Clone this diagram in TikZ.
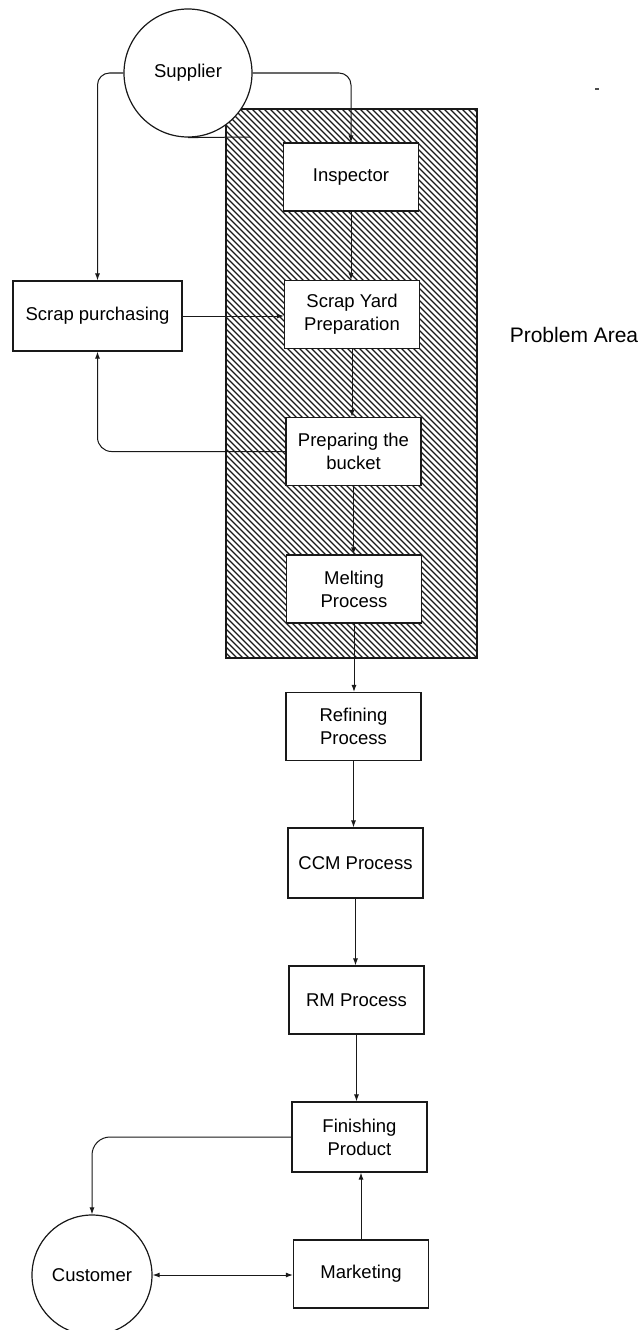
\documentclass[tikz,border=0pt]{standalone}
\usepackage{fontspec}
\setmainfont{Liberation Sans}
\usetikzlibrary{arrows.meta}
\begin{document}
\begin{tikzpicture}[x=1pt,y=-1pt,
  every node/.style={font=\fontsize{18.5}{23}\selectfont, text=black},
  pbox/.style={draw=black!90, line width=1.2pt, fill=white, rectangle, align=center, inner sep=0pt, minimum width=135pt, minimum height=68pt},
  pcirc/.style={draw=black!90, line width=1.2pt, fill=white, circle, inner sep=0pt},
  conn/.style={draw=black!90, line width=1pt},
  arr/.style={conn, -{Latex[length=7pt,width=5pt]}},
  hatch/.style={draw=black!90, line width=1.2pt}
]
\useasboundingbox (0,0) rectangle (642,1330);
\fill[white] (0,0) rectangle (642,1330);

% hatched problem area
\begin{scope}
  \clip (226,109) rectangle (477,658);
  \foreach \i in {-330,-324,...,480} {
    \draw[black!90, line width=1.15pt] (\i,109) -- (\i+549,658);
  }
\end{scope}
\draw[hatch] (226,109) rectangle (477,658);

% nodes
\node[pcirc, minimum size=128pt] (sup) at (188,73) {Supplier};
\node[pbox] (insp) at (351,177) {Inspector};
\node[pbox] (syp) at (352,314.5) {Scrap Yard\\Preparation};
\node[pbox, minimum width=169pt, minimum height=70pt] (spur) at (97.5,316) {Scrap purchasing};
\node[pbox] (buck) at (353.5,451.5) {Preparing the\\bucket};
\node[pbox] (melt) at (354,589) {Melting\\Process};
\node[pbox] (ref) at (353.5,726.5) {Refining\\Process};
\node[pbox, minimum height=70pt] (ccm) at (355.5,863) {CCM Process};
\node[pbox] (rm) at (356.5,1000) {RM Process};
\node[pbox, minimum height=70pt] (fin) at (359.5,1137) {Finishing\\Product};
\node[pbox] (mkt) at (361,1274) {Marketing};
\node[pcirc, minimum size=120pt] (cust) at (92,1275) {Customer};
\node[font=\fontsize{21}{25}\selectfont] (pa) at (574,335) {Problem Area};

\coordinate (tangentend) at (250,137);
\coordinate (dashA) at (595,89);
\coordinate (dashB) at (599,89);

% connectors
\draw[arr, rounded corners=12pt] (sup.east) -| (insp.north);
\draw[arr, rounded corners=12pt] (sup.west) -| (spur.north);
\draw[conn] (sup.south) -- (tangentend);
\draw[arr] (insp.south) -- (insp.south |- syp.north);
\draw[arr] (spur.east) -- (spur.east -| syp.west);
\draw[arr, rounded corners=14pt] (buck.west) -| (spur.south);
\draw[arr] (syp.south) -- (syp.south |- buck.north);
\draw[arr] (buck.south) -- (buck.south |- melt.north);
\draw[arr] (melt.south) -- (melt.south |- ref.north);
\draw[arr] (ref.south) -- (ref.south |- ccm.north);
\draw[arr] (ccm.south) -- (ccm.south |- rm.north);
\draw[arr] (rm.south) -- (rm.south |- fin.north);
\draw[arr] (mkt.north) -- (mkt.north |- fin.south);
\draw[arr, rounded corners=18pt] (fin.west) -| (cust.north);
\draw[conn, {Latex[length=7pt,width=5pt]}-{Latex[length=7pt,width=5pt]}] (cust.east) -- (cust.east -| mkt.west);
\draw[black!70, line width=1.2pt] (dashA) -- (dashB);
\end{tikzpicture}
\end{document}
